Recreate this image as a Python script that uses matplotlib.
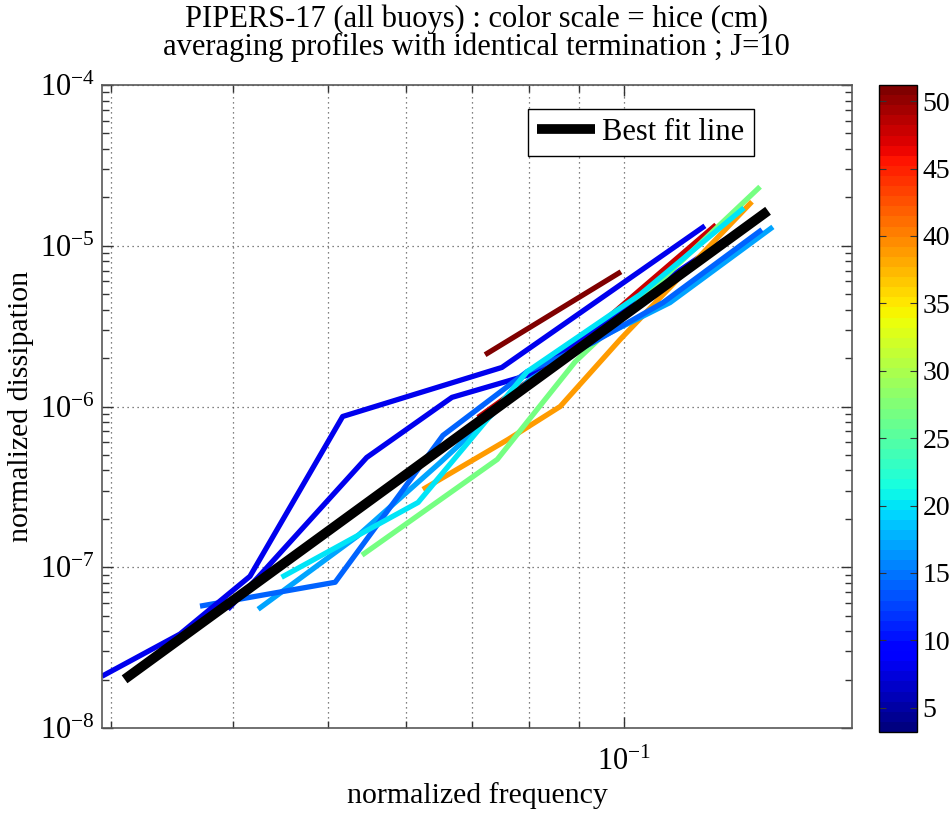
import numpy as np
import matplotlib
matplotlib.use('Agg')
import matplotlib.pyplot as plt
from matplotlib.ticker import FixedLocator, NullFormatter, LogFormatterSciNotation
from matplotlib.colors import Normalize
from matplotlib.cm import ScalarMappable

plt.rcParams['font.family'] = ['Liberation Serif', 'DejaVu Serif']
plt.rcParams['mathtext.fontset'] = 'custom'
plt.rcParams['mathtext.rm'] = 'Liberation Serif'
plt.rcParams['mathtext.it'] = 'Liberation Serif:italic'
plt.rcParams['mathtext.bf'] = 'Liberation Serif:bold'

# ---------------- data ----------------
# profiles: normalized frequency, normalized dissipation, ice thickness (cm)
freq_A = [0.0294, 0.0353, 0.0416, 0.0517, 0.0751, 0.1209]
diss_A = [2.10e-8, 3.84e-8, 8.79e-8, 8.67e-7, 1.75e-6, 1.33e-5]
hice_A = 8

freq_B = [0.0395, 0.0424, 0.0547, 0.0668, 0.0802, 0.0945, 0.1267]
diss_B = [5.48e-8, 8.67e-8, 4.82e-7, 1.14e-6, 1.58e-6, 3.23e-6, 1.09e-5]
hice_B = 8

freq_C = [0.0370, 0.0508, 0.0654, 0.0797, 0.0930, 0.1096, 0.1382]
diss_C = [5.73e-8, 8.07e-8, 6.61e-7, 1.65e-6, 2.50e-6, 4.43e-6, 1.26e-5]
hice_C = 14

freq_D = [0.0424, 0.0535, 0.0650, 0.0802, 0.0945, 0.1114, 0.1418]
diss_D = [5.48e-8, 1.56e-7, 4.49e-7, 1.47e-6, 2.68e-6, 4.43e-6, 1.31e-5]
hice_D = 17

freq_E = [0.0448, 0.0617, 0.0797, 0.1038, 0.1325]
diss_E = [8.67e-8, 2.53e-7, 1.65e-6, 4.96e-6, 1.72e-5]
hice_E = 20

freq_F = [0.0541, 0.0743, 0.0892, 0.1376]
diss_F = [1.19e-7, 4.69e-7, 1.90e-6, 2.33e-5]
hice_F = 27

freq_G = [0.0624, 0.0762, 0.0861, 0.0991, 0.1350]
diss_G = [3.05e-7, 6.24e-7, 1.00e-6, 2.61e-6, 1.88e-5]
hice_G = 39

freq_H = [0.0710, 0.0867, 0.1038, 0.1241]
diss_H = [8.55e-7, 2.05e-6, 5.30e-6, 1.35e-5]
hice_H = 48

freq_I = [0.0722, 0.0993]
diss_I = [2.10e-6, 6.89e-6]
hice_I = 51

fit_freq = [0.0310, 0.1402]
fit_diss = [2.01e-8, 1.65e-5]

clim = (3.2, 51.2)
cbar_ticks = [5, 10, 15, 20, 25, 30, 35, 40, 45, 50]
x_minor = [0.03, 0.04, 0.05, 0.06, 0.07, 0.08, 0.09]
x_major = [0.1]
xlim = (0.0294, 0.1707)
ylim = (1e-8, 1e-4)

title_lines = ["PIPERS-17 (all buoys) : color scale = hice (cm)",
               "averaging profiles with identical termination ; J=10"]

# ---------------- figure ----------------
fig = plt.figure(figsize=(9.53, 8.15), dpi=100)
ax = fig.add_axes([0.107, 0.1067, 0.787, 0.789])

cmap = plt.get_cmap('jet', 64)
norm = Normalize(*clim)

profiles = [
    (freq_H, diss_H, hice_H),
    (freq_B, diss_B, hice_B),
    (freq_G, diss_G, hice_G),
    (freq_F, diss_F, hice_F),
    (freq_D, diss_D, hice_D),
    (freq_C, diss_C, hice_C),
    (freq_E, diss_E, hice_E),
    (freq_A, diss_A, hice_A),
    (freq_I, diss_I, hice_I),
]
for f, d, h in profiles:
    ax.plot(f, d, color=cmap(norm(h)), lw=3.8, solid_joinstyle='round',
            solid_capstyle='butt')

ax.plot(fit_freq, fit_diss, color='black', lw=7, solid_capstyle='butt',
        label='Best fit line')

ax.set_xscale('log')
ax.set_yscale('log')
ax.set_xlim(*xlim)
ax.set_ylim(*ylim)

ax.xaxis.set_major_locator(FixedLocator(x_major))
ax.xaxis.set_minor_locator(FixedLocator(x_minor))
ax.xaxis.set_major_formatter(LogFormatterSciNotation())
ax.xaxis.set_minor_formatter(NullFormatter())
ax.yaxis.set_minor_formatter(NullFormatter())

ax.tick_params(which='both', direction='in', top=True, right=True,
               labelsize=22, color='0.2')
ax.tick_params(which='major', length=8, width=1)
ax.tick_params(which='minor', length=5, width=1)
ax.tick_params(axis='x', which='major', pad=14)
ax.tick_params(axis='y', which='major', pad=5)

ax.grid(which='major', axis='both', linestyle=(0, (1, 3)), color='0.35', lw=0.9)
ax.grid(which='minor', axis='x', linestyle=(0, (1, 3)), color='0.35', lw=0.9)
for s in ax.spines.values():
    s.set_color('0.35')
    s.set_linewidth(1.2)

ax.set_xlabel('normalized frequency', fontsize=21.5, labelpad=4)
ax.set_ylabel('normalized dissipation', fontsize=21.5, labelpad=4)
fig.text(0.5, 0.995, "\n".join(title_lines), ha='center', va='top',
         fontsize=22, linespacing=0.95)

leg = ax.legend(loc='upper right', bbox_to_anchor=(0.869, 0.963),
                borderaxespad=0, fontsize=22, fancybox=False,
                edgecolor='black', framealpha=1, handlelength=1.9,
                handletextpad=0.25, borderpad=0.3)
leg.get_frame().set_linewidth(1.0)

# colorbar
cax = fig.add_axes([0.9224, 0.1018, 0.0399, 0.7939])
sm = ScalarMappable(norm=norm, cmap=cmap)
cb = fig.colorbar(sm, cax=cax, ticks=cbar_ticks)
cb.outline.set_linewidth(1.0)
cax.tick_params(direction='in', left=True, right=True, length=5,
                labelsize=20, color='0.2', pad=4)

fig.savefig('out.png', dpi=100)
